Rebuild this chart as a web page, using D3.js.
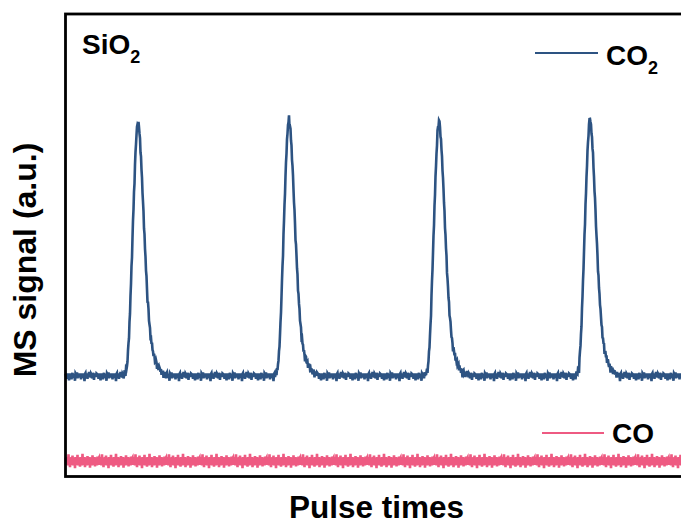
<!DOCTYPE html>
<html>
<head>
<meta charset="utf-8">
<script src="https://cdn.jsdelivr.net/npm/d3@7"></script>
<style>
  body { margin: 0; background: #fff; }
  text { font-family: "Liberation Sans", Arial, sans-serif; font-weight: bold; fill: #000; }
</style>
</head>
<body>
<div id="chart"></div>
<script>
// pulse centres (s) and CO2 peak heights (a.u.)
var pulseTimes = [72.5, 223.5, 373.5, 524.5];
var peakHeights = [77.3, 77.8, 77.3, 77.8];
var co2Base = 22.0;
var coBase = 3.3;

// shape of one CO2 pulse: offset from centre (s) -> fraction of peak
var profileDx  = [-14, -11, -9, -7, -5, -3, -1.5, 0, 1.5, 3, 5, 7, 9, 11, 13, 15, 18, 22, 26, 30];
var profileRel = [0, 0.03, 0.15, 0.36, 0.6, 0.82, 0.95, 1, 0.95, 0.85, 0.68, 0.5, 0.34, 0.22, 0.14, 0.09, 0.05, 0.02, 0.008, 0];

// detector noise (a.u.)
var co2Noise = [0.2, -0.4, 0.3, -0.9, 0.1, -0.3, 0.3, -1.2, -0.2, 0.2, -0.5, 0.3, -1.0, 0.1, 0.4, -0.3, -0.7, 0.2, -0.2, -1.3,
                0.3, 0.1, -0.4, 0.5, -0.8, 0.2, -0.3, 0.3, -0.6, -0.2, 0.2, -1.0, 0.3, -0.4, 0.1, -0.7, 0.3, -0.3, -1.4, 0.2,
                0.4, -0.5, -0.2, 0.2, -0.9, 0.3, -0.4, 0.6, -0.3, 0.1, -0.6, 0.3, 0.1, -0.8, -0.3, 0.4, 0.1, -1.1, 0.3, -0.2, 0.2, -0.5, 0.3];
var coNoise = [0.8, -0.8, 0.9, -0.7, 0.7, -0.9, 1.5, -0.8, 0.8, -1.3, 0.7, -0.8, 0.9, -0.7, 1.2, -0.9, 0.8, -0.8, 0.7, -1.5,
               0.9, -0.7, 0.8, -0.8, 1.4, -0.9, 0.7, -0.8, 0.8, -1.2, 0.9, -0.7, 0.8, -0.9, 1.6, -0.8, 0.7, -0.7, 0.9, -1.3,
               0.8, -0.8, 0.7, -0.9, 1.1, -0.8, 0.8, -0.7, 0.9, -1.4, 0.7, -0.8, 0.8, -0.9, 1.3, -0.7, 0.8, -0.8, 0.9, -1.1, 0.8, -0.6, 0.7, -0.9, 1.0, -0.8, 0.6];

var tMax = 625, step = 0.5;

var svgWidth = 681, svgHeight = 527;
var frame = {left: 65.5, top: 14, bottom: 476.5, right: 690};

var x = d3.scaleLinear().domain([0, tMax]).range([frame.left, frame.left + tMax]);
var y = d3.scaleLinear().domain([0, 100]).range([frame.bottom, frame.top]);
var profile = d3.scaleLinear().domain(profileDx).range(profileRel).clamp(true);

var co2 = [], co = [];
for (var i = 0, t = 0; t <= tMax; i++, t += step) {
  var v = co2Base + co2Noise[i % co2Noise.length];
  pulseTimes.forEach(function(p, k) {
    v += (peakHeights[k] - co2Base) * profile(t - p);
  });
  co2.push({t: t, v: v});
  co.push({t: t, v: coBase + coNoise[i % coNoise.length]});
}

var svg = d3.select("#chart").append("svg")
    .attr("width", svgWidth)
    .attr("height", svgHeight);

var line = d3.line()
    .x(function(d) { return x(d.t); })
    .y(function(d) { return y(d.v); });

svg.append("path")
    .datum(co)
    .attr("fill", "none")
    .attr("stroke", "#ee5a82")
    .attr("stroke-width", 2.6)
    .attr("d", line);

svg.append("path")
    .datum(co2)
    .attr("fill", "none")
    .attr("stroke", "#2d5382")
    .attr("stroke-width", 2.6)
    .attr("d", line);

svg.append("rect")
    .attr("x", frame.left)
    .attr("y", frame.top)
    .attr("width", frame.right - frame.left)
    .attr("height", frame.bottom - frame.top)
    .attr("fill", "none")
    .attr("stroke", "#000")
    .attr("stroke-width", 2.8);

// labels
var sio2 = svg.append("text").attr("x", 82).attr("y", 54).attr("font-size", 28);
sio2.append("tspan").text("SiO");
sio2.append("tspan").attr("font-size", 18).attr("dy", 8.5).text("2");

svg.append("line")
    .attr("x1", 535).attr("x2", 598).attr("y1", 53).attr("y2", 53)
    .attr("stroke", "#2d5382").attr("stroke-width", 2);
var lco2 = svg.append("text").attr("x", 606).attr("y", 65).attr("font-size", 28);
lco2.append("tspan").text("CO");
lco2.append("tspan").attr("font-size", 18).attr("dy", 9).text("2");

svg.append("line")
    .attr("x1", 542).attr("x2", 604).attr("y1", 433).attr("y2", 433)
    .attr("stroke", "#ee5a82").attr("stroke-width", 2);
svg.append("text").attr("x", 612).attr("y", 443).attr("font-size", 28).text("CO");

svg.append("text")
    .attr("transform", "translate(36,260) rotate(-90)")
    .attr("text-anchor", "middle")
    .attr("font-size", 32)
    .text("MS signal (a.u.)");

svg.append("text")
    .attr("x", 376.5)
    .attr("y", 518)
    .attr("text-anchor", "middle")
    .attr("font-size", 31.5)
    .text("Pulse times");
</script>
</body>
</html>
